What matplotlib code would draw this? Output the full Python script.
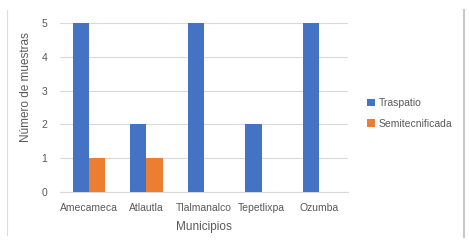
import numpy as np
import matplotlib.pyplot as plt
from matplotlib.lines import Line2D

municipios = ["Amecameca", "Atlautla", "Tlalmanalco", "Tepetlixpa", "Ozumba"]
traspatio = [5, 2, 5, 2, 5]
semitecnificada = [1, 1, 0, 0, 0]

blue = "#4472C4"
orange = "#ED7D31"
gris = "#595959"

plt.rcParams['font.family'] = ['Liberation Sans', 'DejaVu Sans']

fig = plt.figure(figsize=(4.69, 2.4), dpi=100)
ax = fig.add_axes([60/469, 1 - 192/240, 288/469, 169/240])

x = np.arange(len(municipios))
w = 0.28
ax.bar(x - w/2, traspatio, w, color=blue, label="Traspatio", zorder=3)
ax.bar(x + w/2, semitecnificada, w, color=orange, label="Semitecnificada", zorder=3)

ax.set_xlim(-0.5, 4.5)
ax.set_ylim(0, 5)
ax.set_yticks(range(6))
ax.yaxis.grid(True, color="#D9D9D9", lw=0.8, zorder=0)
for s in ["top", "right", "left"]:
    ax.spines[s].set_visible(False)
ax.spines["bottom"].set_color("#D9D9D9")
ax.set_xticks(x)
ax.set_xticklabels(municipios)
ax.tick_params(length=0, colors=gris, labelsize=7.5)
ax.tick_params(axis="y", pad=9)
ax.tick_params(axis="x", pad=8)
ax.set_xlabel("Municipios", color=gris, fontsize=8.5, labelpad=6)
ax.set_ylabel("Número de muestras", color=gris, fontsize=8.5)
ax.yaxis.set_label_coords(-0.097, 0.62)

leg = fig.legend(loc="upper left", bbox_to_anchor=(358/469, 1 - 89/240), frameon=False,
                 fontsize=7.5, handlelength=0.7, handleheight=0.7, handletextpad=0.4,
                 labelspacing=1.0)
for t in leg.get_texts():
    t.set_color(gris)

# marco del grafico (solo lados)
fig.add_artist(Line2D([7/469, 7/469], [5/240, 230/240], transform=fig.transFigure,
                      color="#DDDDDD", lw=0.8))
fig.add_artist(Line2D([464/469, 464/469], [3/240, 230/240], transform=fig.transFigure,
                      color="#C8C8C8", lw=1.5))

fig.savefig("out.png", dpi=100)
